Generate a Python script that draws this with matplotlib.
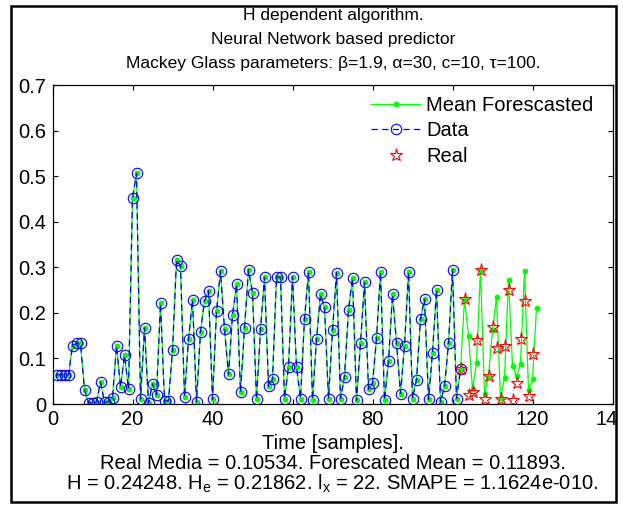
import matplotlib.pyplot as plt
from matplotlib import font_manager
from matplotlib.patches import Rectangle
from matplotlib.transforms import Bbox, TransformedBbox

plt.rcParams['font.family'] = ['Liberation Sans', 'DejaVu Sans']
plt.rcParams['mathtext.fontset'] = 'custom'
plt.rcParams['mathtext.rm'] = 'Liberation Sans'
plt.rcParams['mathtext.it'] = 'Liberation Sans'

# observed series, samples 1..102
data = [0.064, 0.064, 0.064, 0.064, 0.128, 0.133, 0.133, 0.031, 0.003, 0.002,
        0.004, 0.048, 0.004, 0.005, 0.014, 0.128, 0.037, 0.107, 0.033, 0.452,
        0.506, 0.011, 0.167, 0.002, 0.044, 0.020, 0.221, 0.007, 0.007, 0.118,
        0.316, 0.303, 0.015, 0.142, 0.229, 0.005, 0.159, 0.226, 0.249, 0.010,
        0.203, 0.292, 0.164, 0.065, 0.195, 0.263, 0.026, 0.167, 0.295, 0.244,
        0.010, 0.164, 0.278, 0.039, 0.054, 0.279, 0.278, 0.012, 0.082, 0.279,
        0.081, 0.012, 0.187, 0.290, 0.009, 0.142, 0.241, 0.212, 0.012, 0.162,
        0.288, 0.012, 0.060, 0.206, 0.277, 0.008, 0.133, 0.267, 0.032, 0.045,
        0.144, 0.290, 0.008, 0.094, 0.241, 0.134, 0.023, 0.127, 0.290, 0.012,
        0.053, 0.186, 0.230, 0.010, 0.113, 0.251, 0.004, 0.039, 0.133, 0.295,
        0.012, 0.076]

# mean of the forecasts past the end of the data, samples 103..121
forecast = [0.230, 0.150, 0.032, 0.091, 0.295, 0.022, 0.062, 0.162, 0.235, 0.013,
            0.057, 0.272, 0.084, 0.061, 0.088, 0.292, 0.030, 0.054, 0.211]

# real continuation of the series, samples 102..120
real = [0.076, 0.230, 0.020, 0.027, 0.140, 0.295, 0.011, 0.061, 0.170, 0.122,
        0.011, 0.127, 0.250, 0.009, 0.046, 0.143, 0.227, 0.017, 0.110]
real_start = 102

x_ticks = [0, 20, 40, 60, 80, 100, 120, 140]
y_ticks = [0, 0.1, 0.2, 0.3, 0.4, 0.5, 0.6, 0.7]
y_tick_labels = ['0', '0.1', '0.2', '0.3', '0.4', '0.5', '0.6', '0.7']

title_lines = [
    'H dependent algorithm.',
    'Neural Network based predictor',
    'Mackey Glass parameters: \u03b2=1.9, \u03b1=30, c=10, \u03c4=100.',
]
info_lines = [
    'Real Media = 0.10534. Forescated Mean = 0.11893.',
    'H = 0.24248. H$_\\mathregular{e}$ = 0.21862. l$_\\mathregular{x}$ = 22. '
    'SMAPE = 1.1624e-010.',
]

W, H = 623, 511
FS = 14.5

# the title is set in a narrower face when one is available
installed = {f.name for f in font_manager.fontManager.ttflist}
if 'Liberation Sans Narrow' in installed:
    title_family, FS_TITLE = 'Liberation Sans Narrow', 14
else:
    title_family, FS_TITLE = 'Liberation Sans', 12.5

mean_forecasted = data + forecast
t_mean = list(range(1, len(mean_forecasted) + 1))
t_data = list(range(1, len(data) + 1))
t_real = list(range(real_start, real_start + len(real)))

fig = plt.figure(figsize=(W / 100, H / 100), dpi=100)
ax = fig.add_axes([52.5 / W, 107 / H, 560 / W, 319 / H])

ax.plot(t_mean, mean_forecasted, color='#00ff00', linestyle='-', linewidth=0.9,
        marker='o', markersize=4.2, markeredgewidth=0, label='Mean Forescasted')
ax.plot(t_data, data, color='#0000ff', linestyle=(0, (5, 3.5)), linewidth=0.9,
        marker='o', markersize=7.5, markerfacecolor='none', markeredgewidth=0.8,
        label='Data')
ax.plot(t_real, real, color='#ff0000', linestyle='none', marker='*',
        markersize=9.5, markerfacecolor='none', markeredgewidth=0.8, label='Real')

ax.set_xlim(0, 140)
ax.set_ylim(0, 0.7)
ax.set_xticks(x_ticks)
ax.set_yticks(y_ticks)
ax.set_yticklabels(y_tick_labels)
ax.tick_params(direction='in', length=3.6, width=0.8, top=True, right=True,
               labelsize=FS, colors='black')
ax.tick_params(axis='x', pad=4.5)
ax.tick_params(axis='y', pad=4.5)
for s in ax.spines.values():
    s.set_linewidth(0.9)

ax.legend(loc='upper left', bbox_to_anchor=(371 / W, 1 - 96 / H),
          bbox_transform=fig.transFigure, frameon=False, fontsize=FS,
          borderpad=0, borderaxespad=0, handlelength=2.45, handletextpad=0.3,
          labelspacing=0.32)

for i, line in enumerate(title_lines):
    fig.text(333 / W, 1 - (20 + 24 * i) / H, line, ha='center', va='baseline',
             fontsize=FS_TITLE, family=[title_family, 'Liberation Sans'])

ax.set_xlabel('Time [samples].', fontsize=FS, labelpad=3.5)
for i, line in enumerate(info_lines):
    fig.text(332.5 / W, 1 - (469 + 21 * i) / H, line, ha='center', va='baseline',
             fontsize=FS)

# border around the whole figure; the last x tick label is cut by it
frame = Rectangle((11 / W, 9 / H), 605 / W, 496 / H, transform=fig.transFigure,
                  fill=False, edgecolor='black', linewidth=1.8)
fig.patches.append(frame)

fig.canvas.draw()
clip = TransformedBbox(Bbox.from_extents(11 / W, 0, 616 / W, 1), fig.transFigure)
for lab in ax.get_xticklabels():
    lab.set_clip_box(clip)
    lab.set_clip_on(True)

fig.savefig('out.png', dpi=100)
